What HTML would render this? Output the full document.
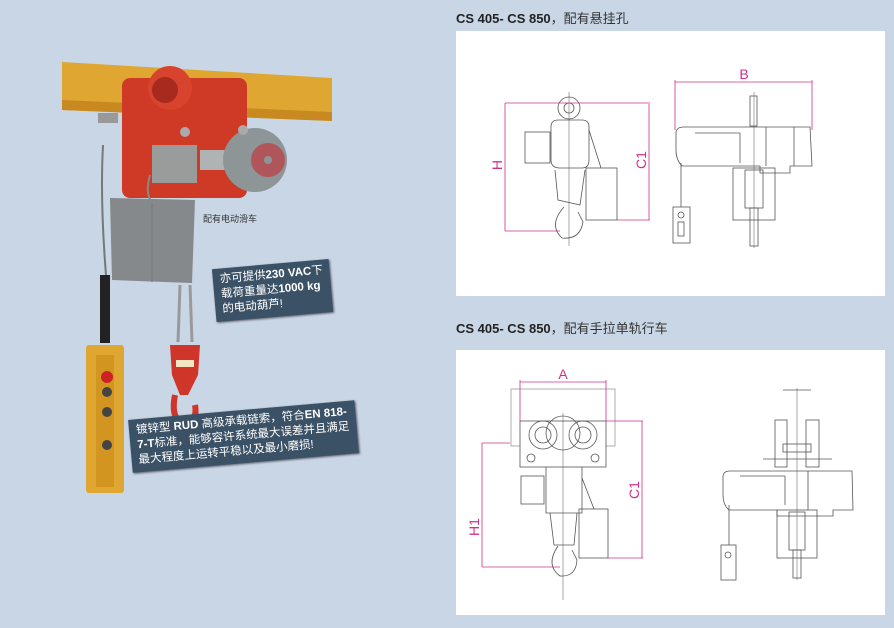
<!DOCTYPE html>
<html><head><meta charset="utf-8"><style>
html,body{margin:0;padding:0;background:#c9d6e5;}
body{width:894px;height:628px;position:relative;overflow:hidden;font-family:"Liberation Sans","Noto Sans CJK SC",sans-serif;}
.t{position:absolute;left:456px;font-size:13px;color:#333;}
.t b{font-weight:bold;color:#222}
.box{position:absolute;left:456px;width:429px;background:#fff;}
.note{position:absolute;background:#3b5166;color:#fff;font-size:11.5px;line-height:15px;padding:4px 7px;transform:rotate(-5deg);box-shadow:1px 1px 2px #556;white-space:nowrap;}
</style></head><body>
<div class="t" style="top:8px"><b>CS 405- CS 850</b>，配有悬挂孔</div>
<div class="box" style="top:31px;height:265px"></div>
<div class="t" style="top:318px"><b>CS 405- CS 850</b>，配有手拉单轨行车</div>
<div class="box" style="top:350px;height:265px"></div>

<svg width="894" height="628" style="position:absolute;left:0;top:0" font-family="Liberation Sans, sans-serif">
<!-- photo -->
<polygon points="62,62 332,78 332,121 62,110" fill="#e0a632"/>
<polygon points="62,100 332,112 332,121 62,110" fill="#c88a20"/>
<rect x="98" y="113" width="20" height="10" fill="#999"/>
<rect x="122" y="78" width="125" height="120" rx="8" fill="#cf3a26"/>
<circle cx="170" cy="88" r="22" fill="#d8432e"/>
<circle cx="165" cy="90" r="13" fill="#a82a1e"/>
<rect x="152" y="145" width="45" height="38" fill="#9a9c9c"/>
<rect x="200" y="150" width="30" height="20" fill="#b0b3b3"/>
<circle cx="255" cy="160" r="32" fill="#8d9597"/>
<circle cx="268" cy="160" r="17" fill="#b0565a"/>
<circle cx="268" cy="160" r="4" fill="#8d9597"/>
<circle cx="185" cy="132" r="5" fill="#aaa"/><circle cx="243" cy="130" r="5" fill="#aaa"/>
<path d="M110 198 L195 200 L192 283 L112 280 Z" fill="#85898c"/>
<line x1="152" y1="200" x2="152" y2="282" stroke="#777" stroke-width="1"/>
<path d="M103 145 Q100 200 106 275" stroke="#777" stroke-width="2" fill="none"/>
<path d="M150 175 Q140 210 175 210" stroke="#888" stroke-width="2" fill="none"/>
<rect x="100" y="275" width="10" height="68" fill="#222"/>
<line x1="180" y1="285" x2="178" y2="342" stroke="#999" stroke-width="3"/>
<line x1="190" y1="285" x2="192" y2="342" stroke="#999" stroke-width="3"/>
<path d="M170 345 L200 345 L198 375 L188 395 L180 395 L172 375 Z" fill="#d0352a"/>
<rect x="176" y="360" width="18" height="7" fill="#f3e6c0"/>
<path d="M175 395 Q170 420 185 425 Q198 420 195 405" stroke="#d0352a" stroke-width="6" fill="none"/>
<rect x="86" y="345" width="38" height="148" rx="3" fill="#e0a632"/>
<rect x="96" y="355" width="18" height="132" fill="#d29620"/>
<circle cx="107" cy="377" r="6" fill="#c22"/>
<circle cx="107" cy="392" r="5" fill="#444"/>
<circle cx="107" cy="412" r="5" fill="#444"/>
<circle cx="107" cy="445" r="5" fill="#444"/>
<text x="203" y="222" font-size="9" fill="#333" font-family="Liberation Sans, Noto Sans CJK SC, sans-serif">配有电动滑车</text>

<!-- diagram 1 left -->
<g stroke="#555" stroke-width="0.8" fill="none">
<circle cx="569" cy="108" r="11"/><circle cx="569" cy="108" r="5"/>
<path d="M551 127 L551 160 Q551 168 560 168 L582 168 Q589 168 589 160 L589 127 Q589 120 582 120 L558 120 Q551 120 551 127Z"/>
<rect x="525" y="132" width="25" height="31"/>
<path d="M589 130 L601 168"/>
<rect x="586" y="168" width="31" height="52"/>
<path d="M555 170 L558 200 L580 205 L585 170"/>
<path d="M564 207 Q548 225 562 238 Q580 240 583 222 L578 212"/>
</g>
<line x1="569" y1="92" x2="569" y2="246" stroke="#555" stroke-width="0.5"/>
<g stroke="#d0308a" stroke-width="0.8">
<line x1="505" y1="103" x2="505" y2="231"/><line x1="505" y1="103" x2="650" y2="103"/><line x1="505" y1="231" x2="560" y2="231"/>
<line x1="649" y1="104" x2="649" y2="220"/><line x1="617" y1="220" x2="650" y2="220"/>
<line x1="675" y1="82" x2="812" y2="82"/><line x1="675" y1="80" x2="675" y2="130"/><line x1="812" y1="80" x2="812" y2="130"/>
</g>
<text transform="translate(502,165) rotate(-90)" font-size="14" fill="#d0308a" text-anchor="middle">H</text>
<text transform="translate(646,160) rotate(-90)" font-size="14" fill="#d0308a" text-anchor="middle">C1</text>
<text x="744" y="79" font-size="14" fill="#d0308a" text-anchor="middle">B</text>
<!-- diagram 1 right -->
<g stroke="#555" stroke-width="0.8" fill="none">
<path d="M676 133 Q676 127 684 127 L810 127 L812 166 L790 166 L790 173 L760 173 L760 166 L682 166 Q676 160 676 150Z"/>
<line x1="695" y1="133" x2="740" y2="133"/><line x1="740" y1="133" x2="740" y2="163"/><line x1="766" y1="127" x2="766" y2="166"/><line x1="794" y1="127" x2="794" y2="166"/>
<rect x="750" y="96" width="7" height="30"/>
<rect x="733" y="168" width="42" height="52"/>
<rect x="745" y="170" width="18" height="38"/>
<rect x="750" y="208" width="8" height="38"/>
<line x1="681" y1="163" x2="681" y2="207"/>
<rect x="673" y="207" width="17" height="36"/>
<circle cx="681" cy="215" r="3"/><rect x="678" y="222" width="6" height="14"/>
</g>
<line x1="754" y1="92" x2="754" y2="248" stroke="#555" stroke-width="0.5"/>

<!-- diagram 2 left -->
<g stroke="#555" stroke-width="0.8" fill="none">
<rect x="511" y="389" width="104" height="57" stroke="#999"/>
<rect x="520" y="421" width="86" height="46" fill="#fff"/>
<circle cx="543" cy="435" r="14"/><circle cx="543" cy="435" r="8"/>
<circle cx="583" cy="435" r="14"/><circle cx="583" cy="435" r="8"/>
<circle cx="563" cy="433" r="17"/>
<circle cx="531" cy="458" r="4"/><circle cx="595" cy="458" r="4"/>
<path d="M546 467 L546 513 L582 513 L582 467"/>
<rect x="521" y="476" width="23" height="28"/>
<path d="M582 478 L594 509"/>
<rect x="579" y="509" width="29" height="49"/>
<path d="M550 513 L554 545 L574 545 L577 513"/>
<path d="M558 546 Q545 565 560 576 Q576 577 577 560 L572 550"/>
</g>
<line x1="563" y1="413" x2="563" y2="600" stroke="#555" stroke-width="0.5"/>
<g stroke="#d0308a" stroke-width="0.8">
<line x1="520" y1="382" x2="606" y2="382"/><line x1="520" y1="380" x2="520" y2="421"/><line x1="606" y1="380" x2="606" y2="421"/>
<line x1="482" y1="443" x2="482" y2="567"/><line x1="482" y1="443" x2="510" y2="443"/><line x1="482" y1="567" x2="560" y2="567"/>
<line x1="642" y1="421" x2="642" y2="558"/><line x1="606" y1="421" x2="643" y2="421"/><line x1="608" y1="558" x2="643" y2="558"/>
</g>
<text x="563" y="379" font-size="14" fill="#d0308a" text-anchor="middle">A</text>
<text transform="translate(479,527) rotate(-90)" font-size="14" fill="#d0308a" text-anchor="middle">H1</text>
<text transform="translate(639,490) rotate(-90)" font-size="14" fill="#d0308a" text-anchor="middle">C1</text>
<!-- diagram 2 right -->
<g stroke="#555" stroke-width="0.8" fill="none">
<line x1="783" y1="390" x2="811" y2="390"/>
<rect x="775" y="420" width="12" height="47"/><rect x="806" y="420" width="13" height="47"/>
<line x1="763" y1="459" x2="832" y2="459"/>
<rect x="783" y="444" width="28" height="8"/>
<path d="M723 477 Q723 471 730 471 L852 471 L853 510 L833 510 L833 516 L777 516 L777 510 L729 510 Q723 505 723 495Z"/>
<line x1="740" y1="476" x2="785" y2="476"/><line x1="785" y1="476" x2="785" y2="505"/><line x1="808" y1="471" x2="808" y2="510"/>
<rect x="777" y="510" width="40" height="48"/>
<rect x="789" y="512" width="16" height="38"/>
<rect x="793" y="550" width="8" height="28"/>
<line x1="729" y1="505" x2="729" y2="545"/>
<rect x="721" y="545" width="15" height="35"/>
<circle cx="728" cy="555" r="3"/>
</g>
<line x1="797" y1="388" x2="797" y2="580" stroke="#555" stroke-width="0.5"/>
</svg>

<div class="note" style="left:214px;top:264px">亦可提供<b>230 VAC</b>下<br>载荷重量达<b>1000 kg</b><br>的电动葫芦!</div>
<div class="note" style="left:130px;top:410px">镀锌型 <b>RUD</b> 高级承载链索，符合<b>EN 818-</b><br><b>7-T</b>标准，能够容许系统最大误差并且满足<br>最大程度上运转平稳以及最小磨损!</div>
</body></html>
